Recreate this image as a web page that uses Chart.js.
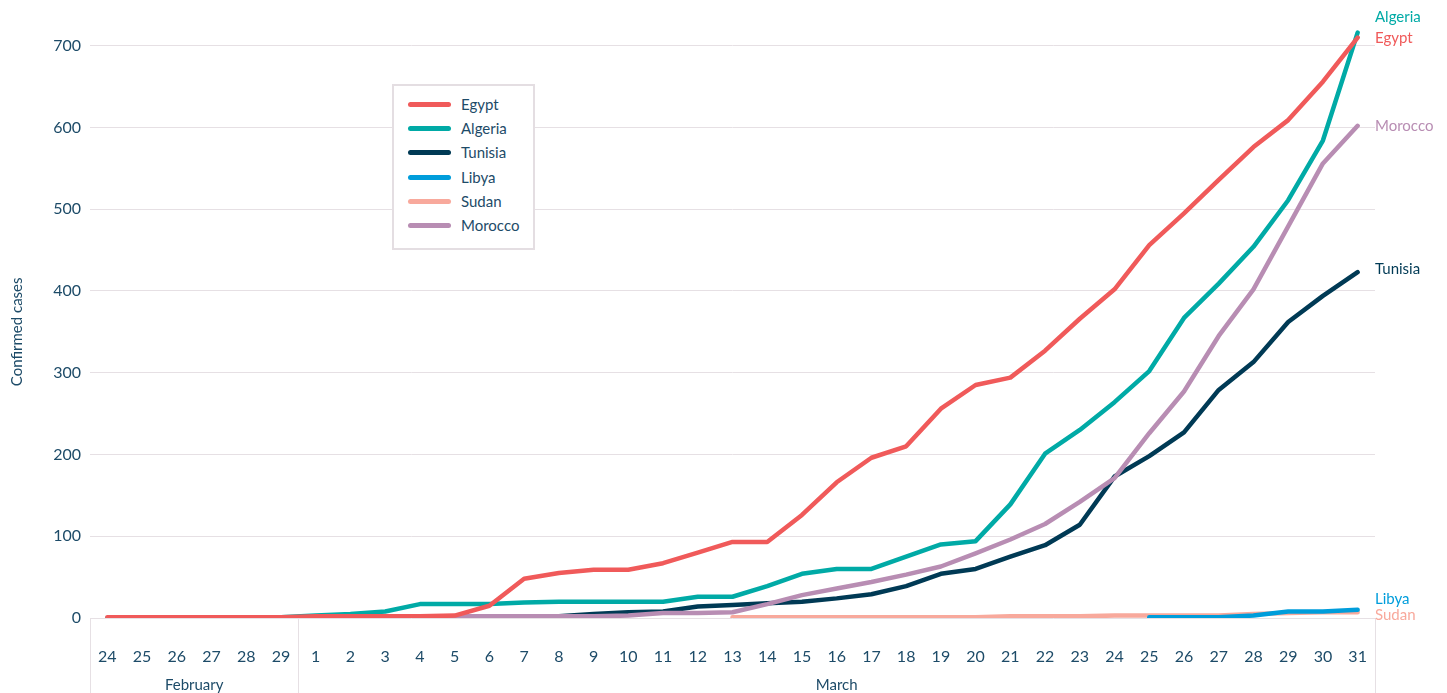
<!DOCTYPE html>
<html>
<head>
<meta charset="utf-8">
<script src="https://cdn.jsdelivr.net/npm/chart.js@4/dist/chart.umd.min.js"></script>
<style>
  html, body { margin: 0; padding: 0; background: #fff; }
  #wrap { position: relative; width: 1447px; height: 693px; }
  #legend {
    position: absolute; left: 392px; top: 84px; width: 139px; height: 162px;
    border: 2px solid #e4dee2; background: #fff; font-family: Lato, sans-serif;
    font-size: 15px; color: #1d4b68;
  }
  #legend .item { position: absolute; left: 14px; height: 20px; line-height: 20px; }
  #legend .swatch { position: absolute; left: 0; top: 8px; width: 43px; height: 5px; border-radius: 3px; }
  #legend .name { position: absolute; left: 53px; top: 0; white-space: nowrap; }
</style>
</head>
<body>
<div id="wrap">
  <canvas id="chart" width="1447" height="693"></canvas>
  <div id="legend"></div>
</div>
<script>
// categories: 24 Feb - 31 Mar 2020
const days = ['24','25','26','27','28','29',
  '1','2','3','4','5','6','7','8','9','10','11','12','13','14','15','16',
  '17','18','19','20','21','22','23','24','25','26','27','28','29','30','31'];
const months = ['February', 'March'];
const monthLengths = [6, 31];

const egypt = [1,1,1,1,1,1,
  2,2,2,2,3,15,48,55,59,59,67,80,93,93,126,166,196,210,256,285,294,327,366,402,456,495,536,576,609,656,710];
const algeria = [0,1,1,1,1,1,
  3,5,8,17,17,17,19,20,20,20,20,26,26,39,54,60,60,75,90,94,139,201,230,264,302,367,409,454,511,584,716];
const tunisia = [null,null,null,null,null,null,
  null,1,1,1,1,1,1,2,5,7,8,14,16,18,20,24,29,39,54,60,75,89,114,173,198,227,279,313,362,394,423];
const libya = [null,null,null,null,null,null,
  null,null,null,null,null,null,null,null,null,null,null,null,null,null,null,null,null,null,null,null,null,null,null,null,1,1,1,3,8,8,10];
const sudan = [null,null,null,null,null,null,
  null,null,null,null,null,null,null,null,null,null,null,null,1,1,1,1,1,1,1,1,2,2,2,3,3,3,3,5,6,7,7];
const morocco = [null,null,null,null,null,null,
  null,1,1,1,2,2,2,2,2,3,6,6,7,17,28,36,44,53,63,79,96,115,142,171,226,277,345,402,479,556,602];

const yTicks = [0, 100, 200, 300, 400, 500, 600, 700];

const textColor = '#1d4b68';
const gridColor = '#e6e0e4';
const font = 'Lato, sans-serif';

// legend order
const series = [
  { name: 'Egypt', data: egypt, color: '#f05a5a', z: 0 },
  { name: 'Algeria', data: algeria, color: '#00aaa6', z: 5 },
  { name: 'Tunisia', data: tunisia, color: '#003a55', z: 4 },
  { name: 'Libya', data: libya, color: '#009ddb', z: 1 },
  { name: 'Sudan', data: sudan, color: '#f8a99c', z: 2 },
  { name: 'Morocco', data: morocco, color: '#b88db3', z: 3 }
];
// label nudges at the right end
const labelShift = { Algeria: -15, Egypt: 1, Tunisia: -3, Libya: -11, Sudan: 3 };

// html legend
const legendEl = document.getElementById('legend');
series.forEach((s, i) => {
  const item = document.createElement('div');
  item.className = 'item';
  item.style.top = (8 + i * 24.2) + 'px';
  item.innerHTML = '<span class="swatch" style="background:' + s.color + '"></span><span class="name">' + s.name + '</span>';
  legendEl.appendChild(item);
});

const extras = {
  id: 'extras',
  afterDraw(chart) {
    const ctx = chart.ctx;
    const area = chart.chartArea;
    const x = chart.scales.x;
    const y = chart.scales.y;
    ctx.save();
    // month group separators and names
    ctx.strokeStyle = gridColor;
    ctx.lineWidth = 1;
    let start = 0;
    let left = area.left;
    ctx.fillStyle = textColor;
    ctx.font = '15px ' + font;
    ctx.textAlign = 'center';
    ctx.textBaseline = 'middle';
    ctx.beginPath();
    ctx.moveTo(left + 0.5, area.bottom);
    ctx.lineTo(left + 0.5, chart.height);
    ctx.stroke();
    months.forEach((m, i) => {
      const end = start + monthLengths[i] - 1;
      let right;
      if (i === months.length - 1) right = area.right;
      else right = (x.getPixelForValue(end) + x.getPixelForValue(end + 1)) / 2;
      ctx.beginPath();
      ctx.moveTo(Math.round(right) + 0.5, area.bottom);
      ctx.lineTo(Math.round(right) + 0.5, chart.height);
      ctx.stroke();
      ctx.fillText(m, (left + right) / 2, area.bottom + 67);
      left = right;
      start = end + 1;
    });
    // y title
    ctx.translate(17, y.getPixelForValue(350));
    ctx.rotate(-Math.PI / 2);
    ctx.font = '15px ' + font;
    ctx.fillText('Confirmed cases', 0, 0);
    ctx.restore();

    // series labels at the end
    ctx.save();
    ctx.font = '15px ' + font;
    ctx.textAlign = 'left';
    ctx.textBaseline = 'middle';
    series.forEach(s => {
      const last = s.data[s.data.length - 1];
      const py = y.getPixelForValue(last) + (labelShift[s.name] || 0);
      ctx.fillStyle = s.color;
      ctx.fillText(s.name, area.right, py);
    });
    ctx.restore();
  }
};

new Chart(document.getElementById('chart').getContext('2d'), {
  type: 'line',
  data: {
    labels: days,
    datasets: series.map(s => ({
      label: s.name,
      data: s.data,
      borderColor: s.color,
      backgroundColor: s.color,
      borderWidth: 4.5,
      pointRadius: 0,
      tension: 0,
      borderCapStyle: 'round',
      borderJoinStyle: 'round',
      spanGaps: false,
      order: s.z
    }))
  },
  options: {
    responsive: false,
    animation: false,
    layout: { padding: { top: 13, right: 72, left: 0, bottom: 0 } },
    plugins: { legend: { display: false }, tooltip: { enabled: false } },
    scales: {
      x: {
        offset: true,
        grid: { display: false },
        border: { display: false },
        ticks: {
          color: textColor, font: { family: font, size: 16 },
          padding: 21, maxRotation: 0, autoSkip: false
        },
        afterFit(scale) { scale.height = 75; scale.paddingLeft = 0; scale.paddingRight = 0; }
      },
      y: {
        min: 0,
        max: 740,
        grid: { color: gridColor, drawTicks: false, lineWidth: 1 },
        border: { display: false },
        ticks: {
          color: textColor, font: { family: font, size: 16 },
          stepSize: 100, padding: 9, includeBounds: false,
          callback: v => yTicks.includes(v) ? v : ''
        },
        afterFit(scale) { scale.width = 90; scale.paddingTop = 0; scale.paddingBottom = 0; }
      }
    }
  },
  plugins: [extras]
});
</script>
</body>
</html>
